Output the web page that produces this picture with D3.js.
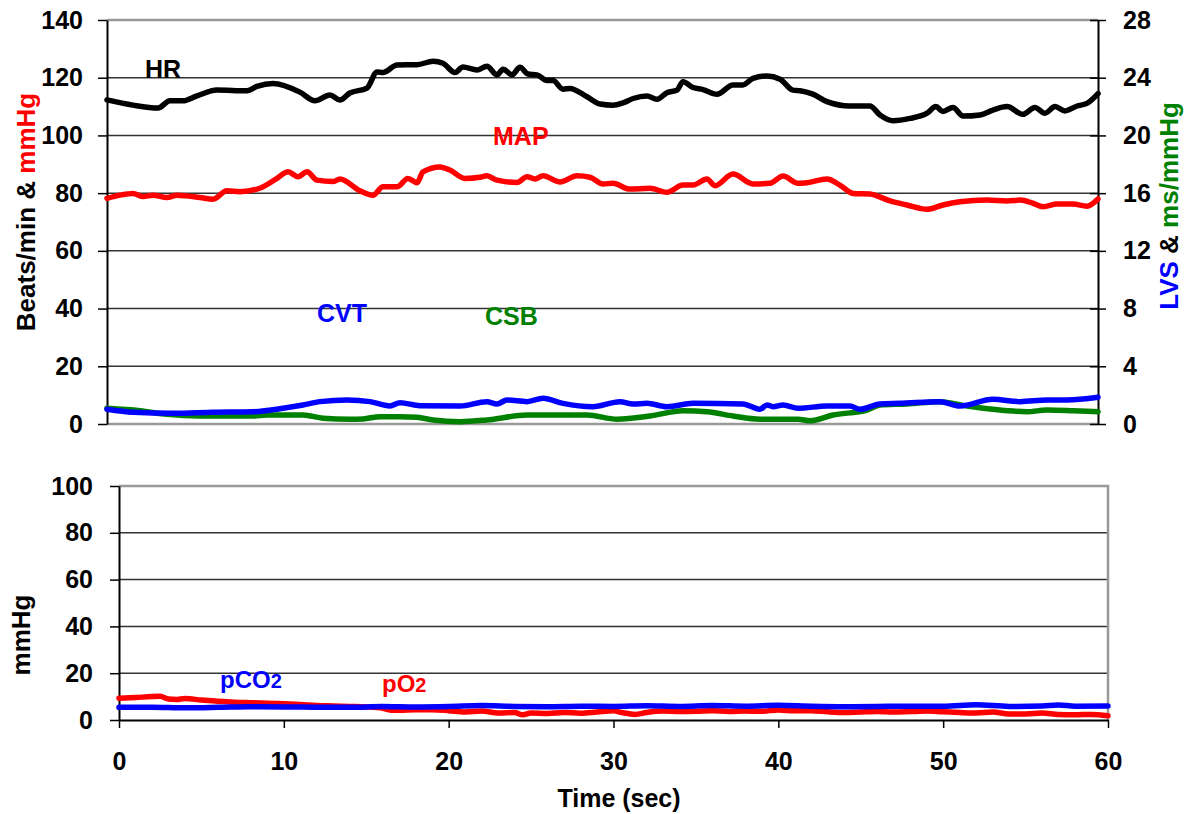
<!DOCTYPE html>
<html>
<head>
<meta charset="utf-8">
<script src="https://cdn.jsdelivr.net/npm/d3@7"></script>
<style>
  body { margin: 0; background: #fff; }
  text { font-family: Arial, "Liberation Sans", sans-serif; font-weight: bold; }
</style>
</head>
<body>
<script>
// data, [time (sec), value]
const hr = [[0,112.3],[1.57,110.5],[3.09,109.5],[3.81,112],[4.6,112],[5.45,113.7],[6.66,115.7],[8.48,115.5],
  [9.08,117],[10.05,118],[11.68,115],[12.59,112],[13.5,114],[14.1,112.3],[14.7,114.7],[15.74,116.4],[16.35,122],
  [16.71,121.8],[17.56,124.4],[18.77,124.5],[19.74,125.7],[20.34,125],[21.07,121.8],[21.55,123.7],[22.4,122.7],
  [23.0,124],[23.61,121],[23.98,122.9],[24.52,121],[25.0,123.6],[25.49,121.3],[26.03,121],[26.64,119],[27.0,119],
  [27.61,116],[28.03,116.3],[29.06,113.4],[29.85,110.9],[30.63,110.5],[31.24,111.3],[31.85,112.8],[32.69,113.7],
  [33.3,112.5],[33.9,114.8],[34.51,115.7],[34.87,118.6],[35.48,116.6],[36.08,115.9],[36.93,114.3],[37.9,117.5],
  [38.5,117.5],[39.11,119.8],[39.96,120.6],[40.75,119.5],[41.53,115.7],[41.96,115.5],[42.74,114.3],[43.59,111.7],
  [44.98,110.2],[46.19,110.2],[46.8,107.1],[47.59,105.1],[48.62,105.9],[49.65,107.7],[50.19,110],[50.61,108.3],
  [51.22,109.7],[51.83,106.7],[52.86,107.1],[53.64,108.8],[54.49,110],[55.46,107.3],[56.18,109.7],[56.79,107.7],
  [57.4,110],[58.0,108.5],[58.73,110.2],[59.33,111.1],[60,114.5]];

const map = [[0,78.2],[0.79,79.3],[1.57,79.9],[2.18,78.8],[2.79,79.3],[3.63,78.5],[4.24,79.3],[5.63,78.5],
  [6.42,77.9],[7.26,80.8],[8.05,80.5],[9.26,81.7],[10.29,85.1],[10.96,87.4],[11.56,85.7],[12.11,87.4],[12.71,84.5],
  [13.68,84],[14.1,84.9],[15.32,80.8],[16.1,79.3],[16.71,82.2],[17.56,82.2],[18.22,85.1],[18.77,83.6],[19.13,87.4],
  [20.16,89.1],[20.76,88],[21.67,85.1],[22.58,85.5],[23.0,86],[23.61,84.5],[24.82,83.7],[25.43,85.7],[25.91,84.9],
  [26.4,86],[27.43,83.9],[28.46,86],[29.24,85.5],[30.03,83.2],[30.63,83.4],[31.66,81.4],[32.87,81.7],[33.9,80.3],
  [34.87,82.8],[35.48,82.8],[36.32,84.9],[36.81,82.6],[37.9,86.6],[39.11,83.2],[40.14,83.4],[40.93,85.9],
  [41.84,83.4],[42.38,83.6],[43.59,84.9],[44.37,82.8],[45.17,79.9],[46.19,79.7],[47.41,77.3],[48.43,75.9],
  [49.65,74.4],[50.61,75.9],[51.64,77],[53.27,77.6],[54.49,77.3],[55.28,77.6],[56.06,76.5],[56.67,75.3],
  [57.52,76.2],[58.49,76.2],[59.33,75.5],[60,78]];

// right axis (LVS & ms/mmHg)
const cvt = [[0,1.02],[1.57,0.81],[4.0,0.74],[6.42,0.81],[8.84,0.85],[10.66,1.09],[11.87,1.32],[12.9,1.55],
  [14.53,1.66],[15.92,1.55],[17.13,1.25],[17.74,1.48],[18.95,1.27],[21.37,1.25],[23.0,1.55],[23.61,1.39],
  [24.22,1.66],[25.43,1.55],[26.4,1.78],[27.61,1.43],[29.42,1.2],[31.06,1.55],[31.85,1.39],[32.69,1.43],
  [33.9,1.2],[35.48,1.43],[38.5,1.39],[39.53,1.02],[39.96,1.32],[40.32,1.2],[40.93,1.32],[41.84,1.09],
  [43.59,1.25],[44.98,1.25],[45.59,1.02],[46.8,1.39],[48.01,1.43],[50.43,1.55],[51.64,1.25],[53.64,1.71],
  [55.28,1.55],[56.91,1.66],[58.12,1.66],[60,1.85]];

const csb = [[0,1.09],[2.0,0.92],[3.63,0.67],[5.63,0.55],[8.84,0.55],[9.69,0.62],[11.87,0.62],[13.08,0.4],
  [14.71,0.33],[15.5,0.35],[16.53,0.51],[17.74,0.51],[18.77,0.46],[19.74,0.28],[21.37,0.16],[23.0,0.28],
  [25.43,0.62],[29.06,0.62],[30.88,0.33],[32.87,0.55],[34.87,0.92],[36.33,0.85],[37.9,0.55],[39.53,0.33],
  [41.84,0.33],[42.56,0.22],[43.95,0.62],[46.01,0.97],[46.8,1.32],[48.43,1.39],[50.43,1.55],[52.07,1.25],
  [53.64,1.02],[55.7,0.85],[56.91,0.97],[58.49,0.92],[60,0.85]];

// lower panel (mmHg)
const pco2 = [[0,5.4],[2,5.5],[4,5.2],[6,5.4],[8,5.7],[10,5.6],[12,5.5],[14,5.4],[16,5.8],[18,5.6],[20,5.8],
  [22,6.2],[24,5.8],[26,5.7],[28,5.9],[30,5.8],[32,6.1],[34,5.8],[36,6.2],[38,5.9],[40,6.3],[42,5.9],[44,5.7],
  [46,5.8],[48,5.9],[50,5.9],[52,6.5],[54,5.8],[56,6.0],[57,6.4],[58,5.9],[60,6.0]];

const po2 = [[0,9.3],[1,9.6],[2,10],[2.5,10.1],[3,9],[3.5,8.8],[4,9.2],[5,8.5],[6,8],[7,7.6],[8,7.4],[9,7.2],
  [10,6.9],[11,6.6],[12,6.2],[13,6],[14,5.8],[15,5.6],[16,5],[16.5,4.2],[17,4.2],[18,4.4],[19,4.4],[20,4],
  [21,3.4],[22,3.8],[23,3],[24,3.2],[24.5,2.2],[25,3],[26,2.8],[27,3.2],[28,2.9],[29,3.4],[30,3.9],[30.5,3.2],
  [31.3,2.4],[32,3.2],[33,3.8],[34,3.6],[35,3.7],[36,4],[37,3.6],[38,3.8],[39,3.7],[40,4.3],[41,3.9],[42,4],
  [43,3.5],[44,3.2],[45,3.4],[46,3.6],[47,3.4],[48,3.6],[49,3.8],[50,3.5],[51,3.2],[52,3],[53,3.4],[54,2.6],
  [55,2.6],[56,3],[57,2.3],[58,2.2],[59,2.4],[60,1.8]];

const leftTicks = [0,20,40,60,80,100,120,140];
const rightTicks = [0,4,8,12,16,20,24,28];
const lowTicks = [0,20,40,60,80,100];
const timeTicks = [0,10,20,30,40,50,60];

const width = 1191, height = 814;
const svg = d3.select("body").append("svg")
    .attr("width", width)
    .attr("height", height);

// scales
const xTop = d3.scaleLinear().domain([0,60]).range([107,1098]);
const yLeft = d3.scaleLinear().domain([0,140]).range([424,20]);
const yRight = d3.scaleLinear().domain([0,28]).range([424,20]);
const xLow = d3.scaleLinear().domain([0,60]).range([119,1108]);
const yLow = d3.scaleLinear().domain([0,100]).range([720,486]);

// ---- top panel ----
svg.append("g").selectAll("line")
    .data(leftTicks.filter(d => d > 0 && d < 140))
    .enter().append("line")
    .attr("x1", xTop(0)).attr("x2", xTop(60))
    .attr("y1", d => yLeft(d)).attr("y2", d => yLeft(d))
    .attr("stroke", "#333").attr("stroke-width", 1.5);

// top and bottom border, grey
[140, 0].forEach(v => {
    svg.append("line")
        .attr("x1", xTop(0)).attr("x2", xTop(60))
        .attr("y1", yLeft(v)).attr("y2", yLeft(v))
        .attr("stroke", "#999").attr("stroke-width", 2.5);
});

const leftAxis = svg.append("g")
    .attr("transform", "translate(" + xTop(0) + ",0)")
    .call(d3.axisLeft(yLeft).tickValues(leftTicks).tickSize(9).tickSizeOuter(0).tickPadding(15));

const rightAxis = svg.append("g")
    .attr("transform", "translate(" + xTop(60) + ",0)")
    .call(d3.axisRight(yRight).tickValues(rightTicks).tickSize(8).tickSizeOuter(0).tickPadding(17));
rightAxis.selectAll(".tick line").attr("x1", -8);

// ---- bottom panel ----
svg.append("g").selectAll("line")
    .data(lowTicks.filter(d => d > 0 && d < 100))
    .enter().append("line")
    .attr("x1", xLow(0)).attr("x2", xLow(60))
    .attr("y1", d => yLow(d)).attr("y2", d => yLow(d))
    .attr("stroke", "#333").attr("stroke-width", 1.5);

svg.append("path")
    .attr("d", "M" + xLow(0) + "," + yLow(100) + "H" + xLow(60) + "V" + yLow(0))
    .attr("fill", "none").attr("stroke", "#999").attr("stroke-width", 2.5);

const lowAxis = svg.append("g")
    .attr("transform", "translate(" + xLow(0) + ",0)")
    .call(d3.axisLeft(yLow).tickValues(lowTicks).tickSize(9).tickSizeOuter(0).tickPadding(17));

const timeAxis = svg.append("g")
    .attr("transform", "translate(0," + yLow(0) + ")")
    .call(d3.axisBottom(xLow).tickValues(timeTicks).tickSize(8).tickSizeOuter(0).tickPadding(24));

[leftAxis, rightAxis, lowAxis, timeAxis].forEach(g => {
    g.select(".domain").attr("stroke", "#000").attr("stroke-width", 2);
    g.selectAll(".tick line").attr("stroke", "#000").attr("stroke-width", 1.5);
    g.selectAll(".tick text").attr("fill", "#000").style("font-size", "25px")
        .style("font-family", "Arial, 'Liberation Sans', sans-serif").style("font-weight", "bold");
});

// ---- lines ----
function drawLine(data, xs, ys, color) {
    svg.append("path")
        .datum(data)
        .attr("fill", "none")
        .attr("stroke", color)
        .attr("stroke-width", 5.5)
        .attr("stroke-linejoin", "round")
        .attr("stroke-linecap", "round")
        .attr("d", d3.line().x(d => xs(d[0])).y(d => ys(d[1])).curve(d3.curveMonotoneX));
}
drawLine(csb, xTop, yRight, "#008000");
drawLine(cvt, xTop, yRight, "#0000ff");
drawLine(map, xTop, yLeft, "#ff0000");
drawLine(hr, xTop, yLeft, "#000000");
drawLine(po2, xLow, yLow, "#ff0000");
drawLine(pco2, xLow, yLow, "#0000ff");

// ---- series labels ----
function label(x, y, txt, color, size) {
    return svg.append("text").attr("x", x).attr("y", y)
        .attr("fill", color).style("font-size", size + "px").text(txt);
}
label(145, 78, "HR", "#000", 25);
label(493, 145, "MAP", "#ff0000", 25);
label(317, 322, "CVT", "#0000ff", 25);
label(485, 325, "CSB", "#008000", 25);
label(220, 688, "pCO", "#0000ff", 24).append("tspan").style("font-size", "20px").text("2");
label(382, 692, "pO", "#ff0000", 24).append("tspan").style("font-size", "20px").text("2");

// ---- axis titles ----
const tl = svg.append("text")
    .attr("transform", "translate(35,212) rotate(-90)")
    .attr("text-anchor", "middle").style("font-size", "26px");
tl.append("tspan").attr("fill", "#000").text("Beats/min & ");
tl.append("tspan").attr("fill", "#ff0000").text("mmHg");

const tr = svg.append("text")
    .attr("transform", "translate(1178,206) rotate(-90)")
    .attr("text-anchor", "middle").style("font-size", "26px");
tr.append("tspan").attr("fill", "#0000ff").text("LVS");
tr.append("tspan").attr("fill", "#000").text(" & ");
tr.append("tspan").attr("fill", "#008000").text("ms/mmHg");

svg.append("text")
    .attr("transform", "translate(30,635) rotate(-90)")
    .attr("text-anchor", "middle").style("font-size", "26px")
    .attr("fill", "#000").text("mmHg");

svg.append("text")
    .attr("x", 619).attr("y", 807)
    .attr("text-anchor", "middle").style("font-size", "25px")
    .attr("fill", "#000").text("Time (sec)");
</script>
</body>
</html>
